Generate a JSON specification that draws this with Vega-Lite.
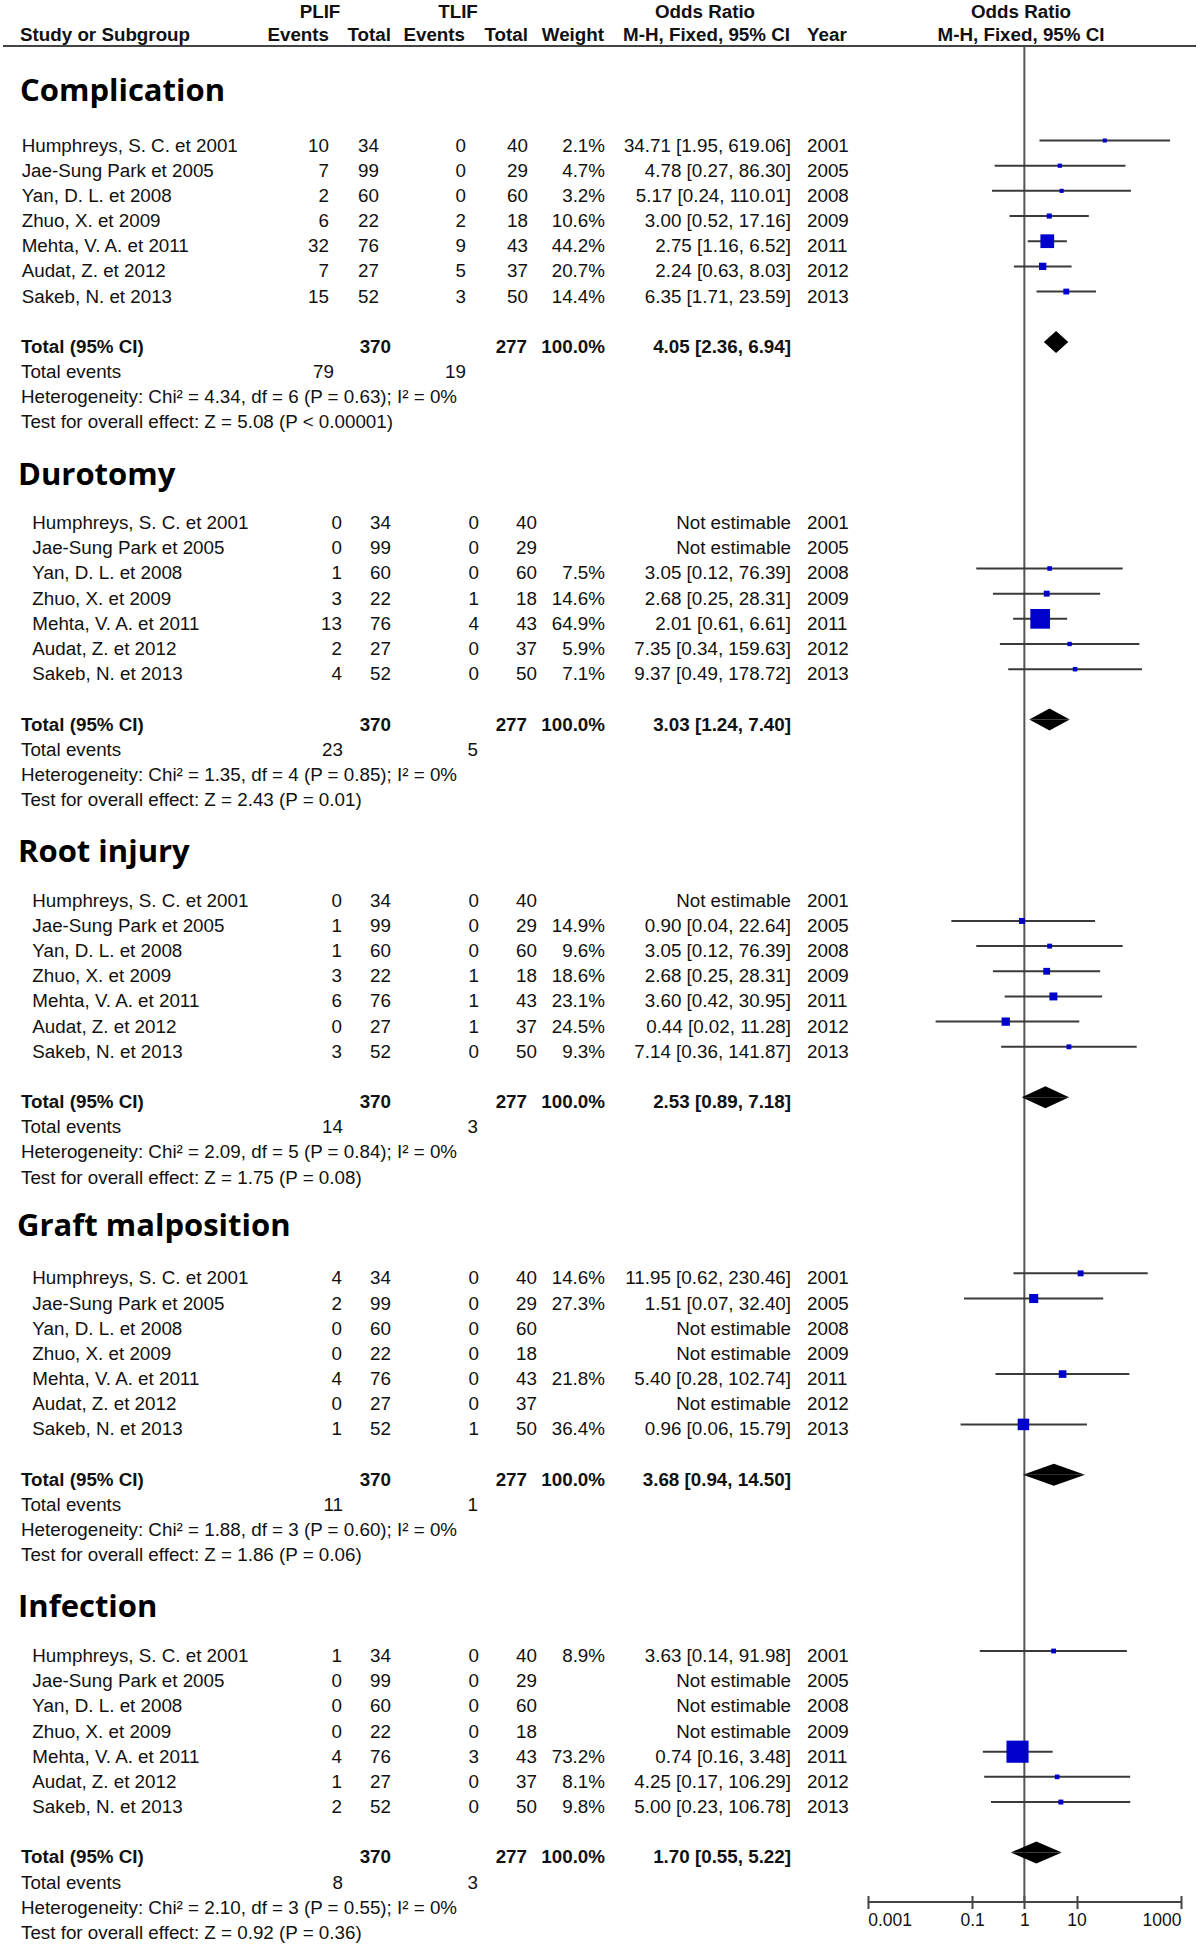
{
  "$schema": "https://vega.github.io/schema/vega-lite/v6.json",
  "width": 1200,
  "height": 1902,
  "padding": 0,
  "autosize": {"type": "pad"},
  "background": "white",
  "config": {
    "view": {"stroke": null},
    "text": {"font": "Liberation Sans", "fontSize": 18.8, "color": "#111", "baseline": "middle"}
  },
  "datasets": {
    "studies": [
      {"block": "Complication", "row": 0, "study": "Humphreys, S. C. et 2001", "e1": 10, "n1": 34, "e2": 0, "n2": 40, "w": 0.021, "est": "34.71 [1.95, 619.06]", "or": 34.71, "lo": 1.95, "hi": 619.06, "year": 2001},
      {"block": "Complication", "row": 1, "study": "Jae-Sung Park et 2005", "e1": 7, "n1": 99, "e2": 0, "n2": 29, "w": 0.047, "est": "4.78 [0.27, 86.30]", "or": 4.78, "lo": 0.27, "hi": 86.30, "year": 2005},
      {"block": "Complication", "row": 2, "study": "Yan, D. L. et 2008", "e1": 2, "n1": 60, "e2": 0, "n2": 60, "w": 0.032, "est": "5.17 [0.24, 110.01]", "or": 5.17, "lo": 0.24, "hi": 110.01, "year": 2008},
      {"block": "Complication", "row": 3, "study": "Zhuo, X. et 2009", "e1": 6, "n1": 22, "e2": 2, "n2": 18, "w": 0.106, "est": "3.00 [0.52, 17.16]", "or": 3.00, "lo": 0.52, "hi": 17.16, "year": 2009},
      {"block": "Complication", "row": 4, "study": "Mehta, V. A. et 2011", "e1": 32, "n1": 76, "e2": 9, "n2": 43, "w": 0.442, "est": "2.75 [1.16, 6.52]", "or": 2.75, "lo": 1.16, "hi": 6.52, "year": 2011},
      {"block": "Complication", "row": 5, "study": "Audat, Z. et 2012", "e1": 7, "n1": 27, "e2": 5, "n2": 37, "w": 0.207, "est": "2.24 [0.63, 8.03]", "or": 2.24, "lo": 0.63, "hi": 8.03, "year": 2012},
      {"block": "Complication", "row": 6, "study": "Sakeb, N. et 2013", "e1": 15, "n1": 52, "e2": 3, "n2": 50, "w": 0.144, "est": "6.35 [1.71, 23.59]", "or": 6.35, "lo": 1.71, "hi": 23.59, "year": 2013},

      {"block": "Durotomy", "row": 15, "study": "Humphreys, S. C. et 2001", "e1": 0, "n1": 34, "e2": 0, "n2": 40, "w": null, "est": "Not estimable", "or": null, "lo": null, "hi": null, "year": 2001},
      {"block": "Durotomy", "row": 16, "study": "Jae-Sung Park et 2005", "e1": 0, "n1": 99, "e2": 0, "n2": 29, "w": null, "est": "Not estimable", "or": null, "lo": null, "hi": null, "year": 2005},
      {"block": "Durotomy", "row": 17, "study": "Yan, D. L. et 2008", "e1": 1, "n1": 60, "e2": 0, "n2": 60, "w": 0.075, "est": "3.05 [0.12, 76.39]", "or": 3.05, "lo": 0.12, "hi": 76.39, "year": 2008},
      {"block": "Durotomy", "row": 18, "study": "Zhuo, X. et 2009", "e1": 3, "n1": 22, "e2": 1, "n2": 18, "w": 0.146, "est": "2.68 [0.25, 28.31]", "or": 2.68, "lo": 0.25, "hi": 28.31, "year": 2009},
      {"block": "Durotomy", "row": 19, "study": "Mehta, V. A. et 2011", "e1": 13, "n1": 76, "e2": 4, "n2": 43, "w": 0.649, "est": "2.01 [0.61, 6.61]", "or": 2.01, "lo": 0.61, "hi": 6.61, "year": 2011},
      {"block": "Durotomy", "row": 20, "study": "Audat, Z. et 2012", "e1": 2, "n1": 27, "e2": 0, "n2": 37, "w": 0.059, "est": "7.35 [0.34, 159.63]", "or": 7.35, "lo": 0.34, "hi": 159.63, "year": 2012},
      {"block": "Durotomy", "row": 21, "study": "Sakeb, N. et 2013", "e1": 4, "n1": 52, "e2": 0, "n2": 50, "w": 0.071, "est": "9.37 [0.49, 178.72]", "or": 9.37, "lo": 0.49, "hi": 178.72, "year": 2013},

      {"block": "Root injury", "row": 30, "study": "Humphreys, S. C. et 2001", "e1": 0, "n1": 34, "e2": 0, "n2": 40, "w": null, "est": "Not estimable", "or": null, "lo": null, "hi": null, "year": 2001},
      {"block": "Root injury", "row": 31, "study": "Jae-Sung Park et 2005", "e1": 1, "n1": 99, "e2": 0, "n2": 29, "w": 0.149, "est": "0.90 [0.04, 22.64]", "or": 0.90, "lo": 0.04, "hi": 22.64, "year": 2005},
      {"block": "Root injury", "row": 32, "study": "Yan, D. L. et 2008", "e1": 1, "n1": 60, "e2": 0, "n2": 60, "w": 0.096, "est": "3.05 [0.12, 76.39]", "or": 3.05, "lo": 0.12, "hi": 76.39, "year": 2008},
      {"block": "Root injury", "row": 33, "study": "Zhuo, X. et 2009", "e1": 3, "n1": 22, "e2": 1, "n2": 18, "w": 0.186, "est": "2.68 [0.25, 28.31]", "or": 2.68, "lo": 0.25, "hi": 28.31, "year": 2009},
      {"block": "Root injury", "row": 34, "study": "Mehta, V. A. et 2011", "e1": 6, "n1": 76, "e2": 1, "n2": 43, "w": 0.231, "est": "3.60 [0.42, 30.95]", "or": 3.60, "lo": 0.42, "hi": 30.95, "year": 2011},
      {"block": "Root injury", "row": 35, "study": "Audat, Z. et 2012", "e1": 0, "n1": 27, "e2": 1, "n2": 37, "w": 0.245, "est": "0.44 [0.02, 11.28]", "or": 0.44, "lo": 0.02, "hi": 11.28, "year": 2012},
      {"block": "Root injury", "row": 36, "study": "Sakeb, N. et 2013", "e1": 3, "n1": 52, "e2": 0, "n2": 50, "w": 0.093, "est": "7.14 [0.36, 141.87]", "or": 7.14, "lo": 0.36, "hi": 141.87, "year": 2013},

      {"block": "Graft malposition", "row": 45, "study": "Humphreys, S. C. et 2001", "e1": 4, "n1": 34, "e2": 0, "n2": 40, "w": 0.146, "est": "11.95 [0.62, 230.46]", "or": 11.95, "lo": 0.62, "hi": 230.46, "year": 2001},
      {"block": "Graft malposition", "row": 46, "study": "Jae-Sung Park et 2005", "e1": 2, "n1": 99, "e2": 0, "n2": 29, "w": 0.273, "est": "1.51 [0.07, 32.40]", "or": 1.51, "lo": 0.07, "hi": 32.40, "year": 2005},
      {"block": "Graft malposition", "row": 47, "study": "Yan, D. L. et 2008", "e1": 0, "n1": 60, "e2": 0, "n2": 60, "w": null, "est": "Not estimable", "or": null, "lo": null, "hi": null, "year": 2008},
      {"block": "Graft malposition", "row": 48, "study": "Zhuo, X. et 2009", "e1": 0, "n1": 22, "e2": 0, "n2": 18, "w": null, "est": "Not estimable", "or": null, "lo": null, "hi": null, "year": 2009},
      {"block": "Graft malposition", "row": 49, "study": "Mehta, V. A. et 2011", "e1": 4, "n1": 76, "e2": 0, "n2": 43, "w": 0.218, "est": "5.40 [0.28, 102.74]", "or": 5.40, "lo": 0.28, "hi": 102.74, "year": 2011},
      {"block": "Graft malposition", "row": 50, "study": "Audat, Z. et 2012", "e1": 0, "n1": 27, "e2": 0, "n2": 37, "w": null, "est": "Not estimable", "or": null, "lo": null, "hi": null, "year": 2012},
      {"block": "Graft malposition", "row": 51, "study": "Sakeb, N. et 2013", "e1": 1, "n1": 52, "e2": 1, "n2": 50, "w": 0.364, "est": "0.96 [0.06, 15.79]", "or": 0.96, "lo": 0.06, "hi": 15.79, "year": 2013},

      {"block": "Infection", "row": 60, "study": "Humphreys, S. C. et 2001", "e1": 1, "n1": 34, "e2": 0, "n2": 40, "w": 0.089, "est": "3.63 [0.14, 91.98]", "or": 3.63, "lo": 0.14, "hi": 91.98, "year": 2001},
      {"block": "Infection", "row": 61, "study": "Jae-Sung Park et 2005", "e1": 0, "n1": 99, "e2": 0, "n2": 29, "w": null, "est": "Not estimable", "or": null, "lo": null, "hi": null, "year": 2005},
      {"block": "Infection", "row": 62, "study": "Yan, D. L. et 2008", "e1": 0, "n1": 60, "e2": 0, "n2": 60, "w": null, "est": "Not estimable", "or": null, "lo": null, "hi": null, "year": 2008},
      {"block": "Infection", "row": 63, "study": "Zhuo, X. et 2009", "e1": 0, "n1": 22, "e2": 0, "n2": 18, "w": null, "est": "Not estimable", "or": null, "lo": null, "hi": null, "year": 2009},
      {"block": "Infection", "row": 64, "study": "Mehta, V. A. et 2011", "e1": 4, "n1": 76, "e2": 3, "n2": 43, "w": 0.732, "est": "0.74 [0.16, 3.48]", "or": 0.74, "lo": 0.16, "hi": 3.48, "year": 2011},
      {"block": "Infection", "row": 65, "study": "Audat, Z. et 2012", "e1": 1, "n1": 27, "e2": 0, "n2": 37, "w": 0.081, "est": "4.25 [0.17, 106.29]", "or": 4.25, "lo": 0.17, "hi": 106.29, "year": 2012},
      {"block": "Infection", "row": 66, "study": "Sakeb, N. et 2013", "e1": 2, "n1": 52, "e2": 0, "n2": 50, "w": 0.098, "est": "5.00 [0.23, 106.78]", "or": 5.00, "lo": 0.23, "hi": 106.78, "year": 2013}
    ],
    "summary": [
      {"block": "Complication", "row": 8, "n1": 370, "n2": 277, "w": 1, "est": "4.05 [2.36, 6.94]", "or": 4.05, "lo": 2.36, "hi": 6.94, "ev1": 79, "ev2": 19, "het": "Heterogeneity: Chi² = 4.34, df = 6 (P = 0.63); I² = 0%", "test": "Test for overall effect: Z = 5.08 (P < 0.00001)"},
      {"block": "Durotomy", "row": 23, "n1": 370, "n2": 277, "w": 1, "est": "3.03 [1.24, 7.40]", "or": 3.03, "lo": 1.24, "hi": 7.40, "ev1": 23, "ev2": 5, "het": "Heterogeneity: Chi² = 1.35, df = 4 (P = 0.85); I² = 0%", "test": "Test for overall effect: Z = 2.43 (P = 0.01)"},
      {"block": "Root injury", "row": 38, "n1": 370, "n2": 277, "w": 1, "est": "2.53 [0.89, 7.18]", "or": 2.53, "lo": 0.89, "hi": 7.18, "ev1": 14, "ev2": 3, "het": "Heterogeneity: Chi² = 2.09, df = 5 (P = 0.84); I² = 0%", "test": "Test for overall effect: Z = 1.75 (P = 0.08)"},
      {"block": "Graft malposition", "row": 53, "n1": 370, "n2": 277, "w": 1, "est": "3.68 [0.94, 14.50]", "or": 3.68, "lo": 0.94, "hi": 14.50, "ev1": 11, "ev2": 1, "het": "Heterogeneity: Chi² = 1.88, df = 3 (P = 0.60); I² = 0%", "test": "Test for overall effect: Z = 1.86 (P = 0.06)"},
      {"block": "Infection", "row": 68, "n1": 370, "n2": 277, "w": 1, "est": "1.70 [0.55, 5.22]", "or": 1.70, "lo": 0.55, "hi": 5.22, "ev1": 8, "ev2": 3, "het": "Heterogeneity: Chi² = 2.10, df = 3 (P = 0.55); I² = 0%", "test": "Test for overall effect: Z = 0.92 (P = 0.36)"}
    ],
    "header": [
      {"label": "PLIF"},
      {"label": "TLIF"},
      {"label": "Odds Ratio"},
      {"label": "Study or Subgroup"},
      {"label": "Events"},
      {"label": "Total"},
      {"label": "Weight"},
      {"label": "M-H, Fixed, 95% CI"},
      {"label": "Year"}
    ],
    "reference": [{"or": 1}]
  },
  "layer": [
    {
      "layer": [
        {
          "layer": [
            {"data": {"name": "reference"}, "mark": {"type": "rule", "color": "#444", "strokeWidth": 2},
             "encoding": {"x": {"datum": 3, "type": "quantitative", "scale": {"domain": [0, 1200], "nice": false, "zero": false}, "axis": null}, "x2": {"datum": 1196}, "y": {"datum": -3.952, "type": "quantitative", "axis": null}}},
            {"data": {"name": "header"}, "transform": [{"filter": "datum.label == 'PLIF'"}], "mark": {"type": "text", "align": "center", "fontWeight": "bold"},
             "encoding": {"x": {"datum": 320, "type": "quantitative", "axis": null}, "y": {"datum": -5.3, "type": "quantitative", "axis": null}, "text": {"field": "label"}}},
            {"data": {"name": "header"}, "transform": [{"filter": "datum.label == 'TLIF'"}], "mark": {"type": "text", "align": "center", "fontWeight": "bold"},
             "encoding": {"x": {"datum": 458, "type": "quantitative", "axis": null}, "y": {"datum": -5.3, "type": "quantitative", "axis": null}, "text": {"field": "label"}}},
            {"data": {"name": "header"}, "transform": [{"filter": "datum.label == 'Odds Ratio'"}], "mark": {"type": "text", "align": "center", "fontWeight": "bold"},
             "encoding": {"x": {"datum": 705, "type": "quantitative", "axis": null}, "y": {"datum": -5.3, "type": "quantitative", "axis": null}, "text": {"field": "label"}}},
            {"data": {"name": "header"}, "transform": [{"filter": "datum.label == 'Odds Ratio'"}], "mark": {"type": "text", "align": "center", "fontWeight": "bold"},
             "encoding": {"x": {"datum": 1021, "type": "quantitative", "axis": null}, "y": {"datum": -5.3, "type": "quantitative", "axis": null}, "text": {"field": "label"}}},
            {"data": {"name": "header"}, "transform": [{"filter": "datum.label == 'Study or Subgroup'"}], "mark": {"type": "text", "align": "left", "fontWeight": "bold"},
             "encoding": {"x": {"datum": 20, "type": "quantitative", "axis": null}, "y": {"datum": -4.39, "type": "quantitative", "axis": null}, "text": {"field": "label"}}},
            {"data": {"name": "header"}, "transform": [{"filter": "datum.label == 'Events'"}], "mark": {"type": "text", "align": "right", "fontWeight": "bold"},
             "encoding": {"x": {"datum": 329, "type": "quantitative", "axis": null}, "y": {"datum": -4.39, "type": "quantitative", "axis": null}, "text": {"field": "label"}}},
            {"data": {"name": "header"}, "transform": [{"filter": "datum.label == 'Total'"}], "mark": {"type": "text", "align": "right", "fontWeight": "bold"},
             "encoding": {"x": {"datum": 391, "type": "quantitative", "axis": null}, "y": {"datum": -4.39, "type": "quantitative", "axis": null}, "text": {"field": "label"}}},
            {"data": {"name": "header"}, "transform": [{"filter": "datum.label == 'Events'"}], "mark": {"type": "text", "align": "right", "fontWeight": "bold"},
             "encoding": {"x": {"datum": 465, "type": "quantitative", "axis": null}, "y": {"datum": -4.39, "type": "quantitative", "axis": null}, "text": {"field": "label"}}},
            {"data": {"name": "header"}, "transform": [{"filter": "datum.label == 'Total'"}], "mark": {"type": "text", "align": "right", "fontWeight": "bold"},
             "encoding": {"x": {"datum": 528, "type": "quantitative", "axis": null}, "y": {"datum": -4.39, "type": "quantitative", "axis": null}, "text": {"field": "label"}}},
            {"data": {"name": "header"}, "transform": [{"filter": "datum.label == 'Weight'"}], "mark": {"type": "text", "align": "right", "fontWeight": "bold"},
             "encoding": {"x": {"datum": 604, "type": "quantitative", "axis": null}, "y": {"datum": -4.39, "type": "quantitative", "axis": null}, "text": {"field": "label"}}},
            {"data": {"name": "header"}, "transform": [{"filter": "datum.label == 'M-H, Fixed, 95% CI'"}], "mark": {"type": "text", "align": "right", "fontWeight": "bold"},
             "encoding": {"x": {"datum": 790, "type": "quantitative", "axis": null}, "y": {"datum": -4.39, "type": "quantitative", "axis": null}, "text": {"field": "label"}}},
            {"data": {"name": "header"}, "transform": [{"filter": "datum.label == 'Year'"}], "mark": {"type": "text", "align": "left", "fontWeight": "bold"},
             "encoding": {"x": {"datum": 807, "type": "quantitative", "axis": null}, "y": {"datum": -4.39, "type": "quantitative", "axis": null}, "text": {"field": "label"}}},
            {"data": {"name": "header"}, "transform": [{"filter": "datum.label == 'M-H, Fixed, 95% CI'"}], "mark": {"type": "text", "align": "center", "fontWeight": "bold"},
             "encoding": {"x": {"datum": 1021, "type": "quantitative", "axis": null}, "y": {"datum": -4.39, "type": "quantitative", "axis": null}, "text": {"field": "label"}}}
          ]
        },
        {
          "encoding": {
            "y": {"field": "row", "type": "quantitative", "scale": {"domain": [-5.78, 69.772], "reverse": true, "nice": false, "zero": false}, "axis": null}
          },
          "layer": [
            {"data": {"name": "studies"}, "transform": [{"filter": "datum.block == 'Complication'"}], "mark": {"type": "text", "align": "left"},
             "encoding": {"x": {"datum": 21.7, "type": "quantitative", "scale": {"domain": [0, 1200], "nice": false, "zero": false}, "axis": null}, "text": {"field": "study"}}},
            {"data": {"name": "studies"}, "transform": [{"filter": "datum.block != 'Complication'"}], "mark": {"type": "text", "align": "left"},
             "encoding": {"x": {"datum": 32.3, "type": "quantitative", "axis": null}, "text": {"field": "study"}}},
            {"data": {"name": "studies"}, "transform": [{"filter": "datum.block == 'Complication'"}], "mark": {"type": "text", "align": "right"},
             "encoding": {"x": {"datum": 329, "type": "quantitative", "axis": null}, "text": {"field": "e1"}}},
            {"data": {"name": "studies"}, "transform": [{"filter": "datum.block != 'Complication'"}], "mark": {"type": "text", "align": "right"},
             "encoding": {"x": {"datum": 342, "type": "quantitative", "axis": null}, "text": {"field": "e1"}}},
            {"data": {"name": "studies"}, "transform": [{"filter": "datum.block == 'Complication'"}], "mark": {"type": "text", "align": "right"},
             "encoding": {"x": {"datum": 379, "type": "quantitative", "axis": null}, "text": {"field": "n1"}}},
            {"data": {"name": "studies"}, "transform": [{"filter": "datum.block != 'Complication'"}], "mark": {"type": "text", "align": "right"},
             "encoding": {"x": {"datum": 391, "type": "quantitative", "axis": null}, "text": {"field": "n1"}}},
            {"data": {"name": "studies"}, "transform": [{"filter": "datum.block == 'Complication'"}], "mark": {"type": "text", "align": "right"},
             "encoding": {"x": {"datum": 466, "type": "quantitative", "axis": null}, "text": {"field": "e2"}}},
            {"data": {"name": "studies"}, "transform": [{"filter": "datum.block != 'Complication'"}], "mark": {"type": "text", "align": "right"},
             "encoding": {"x": {"datum": 479, "type": "quantitative", "axis": null}, "text": {"field": "e2"}}},
            {"data": {"name": "studies"}, "transform": [{"filter": "datum.block == 'Complication'"}], "mark": {"type": "text", "align": "right"},
             "encoding": {"x": {"datum": 528, "type": "quantitative", "axis": null}, "text": {"field": "n2"}}},
            {"data": {"name": "studies"}, "transform": [{"filter": "datum.block != 'Complication'"}], "mark": {"type": "text", "align": "right"},
             "encoding": {"x": {"datum": 537, "type": "quantitative", "axis": null}, "text": {"field": "n2"}}},
            {"data": {"name": "studies"}, "transform": [{"filter": "datum.w != null"}], "mark": {"type": "text", "align": "right"},
             "encoding": {"x": {"datum": 605, "type": "quantitative", "axis": null}, "text": {"field": "w", "type": "quantitative", "format": ".1%"}}},
            {"data": {"name": "studies"}, "mark": {"type": "text", "align": "right"},
             "encoding": {"x": {"datum": 791, "type": "quantitative", "axis": null}, "text": {"field": "est"}}},
            {"data": {"name": "studies"}, "mark": {"type": "text", "align": "left"},
             "encoding": {"x": {"datum": 807, "type": "quantitative", "axis": null}, "text": {"field": "year", "type": "nominal"}}},

            {"data": {"name": "summary"}, "transform": [{"filter": "datum.block == 'Complication'"}], "mark": {"type": "text", "align": "left", "font": "Open Sans", "fontSize": 31, "fontWeight": "bold", "color": "#000", "yOffset": -254.5},
             "encoding": {"x": {"datum": 20, "type": "quantitative", "axis": null}, "text": {"field": "block"}}},
            {"data": {"name": "summary"}, "transform": [{"filter": "datum.block == 'Graft malposition'"}], "mark": {"type": "text", "align": "left", "font": "Open Sans", "fontSize": 31, "fontWeight": "bold", "color": "#000", "yOffset": -253},
             "encoding": {"x": {"datum": 17, "type": "quantitative", "axis": null}, "text": {"field": "block"}}},
            {"data": {"name": "summary"}, "transform": [{"filter": "datum.block != 'Complication' && datum.block != 'Graft malposition'"}], "mark": {"type": "text", "align": "left", "font": "Open Sans", "fontSize": 31, "fontWeight": "bold", "color": "#000", "yOffset": -249},
             "encoding": {"x": {"datum": 18, "type": "quantitative", "axis": null}, "text": {"field": "block"}}},
            {"data": {"name": "summary"}, "mark": {"type": "text", "align": "left", "fontWeight": "bold"},
             "encoding": {"x": {"datum": 21, "type": "quantitative", "axis": null}, "text": {"value": "Total (95% CI)"}}},
            {"data": {"name": "summary"}, "mark": {"type": "text", "align": "right", "fontWeight": "bold"},
             "encoding": {"x": {"datum": 391, "type": "quantitative", "axis": null}, "text": {"field": "n1"}}},
            {"data": {"name": "summary"}, "mark": {"type": "text", "align": "right", "fontWeight": "bold"},
             "encoding": {"x": {"datum": 527, "type": "quantitative", "axis": null}, "text": {"field": "n2"}}},
            {"data": {"name": "summary"}, "mark": {"type": "text", "align": "right", "fontWeight": "bold"},
             "encoding": {"x": {"datum": 605, "type": "quantitative", "axis": null}, "text": {"field": "w", "type": "quantitative", "format": ".1%"}}},
            {"data": {"name": "summary"}, "mark": {"type": "text", "align": "right", "fontWeight": "bold"},
             "encoding": {"x": {"datum": 791, "type": "quantitative", "axis": null}, "text": {"field": "est"}}},
            {"data": {"name": "summary"}, "mark": {"type": "text", "align": "left", "yOffset": 25.175},
             "encoding": {"x": {"datum": 21, "type": "quantitative", "axis": null}, "text": {"value": "Total events"}}},
            {"data": {"name": "summary"}, "transform": [{"filter": "datum.block == 'Complication'"}], "mark": {"type": "text", "align": "right", "yOffset": 25.175},
             "encoding": {"x": {"datum": 334, "type": "quantitative", "axis": null}, "text": {"field": "ev1"}}},
            {"data": {"name": "summary"}, "transform": [{"filter": "datum.block != 'Complication'"}], "mark": {"type": "text", "align": "right", "yOffset": 25.175},
             "encoding": {"x": {"datum": 343, "type": "quantitative", "axis": null}, "text": {"field": "ev1"}}},
            {"data": {"name": "summary"}, "transform": [{"filter": "datum.block == 'Complication'"}], "mark": {"type": "text", "align": "right", "yOffset": 25.175},
             "encoding": {"x": {"datum": 466, "type": "quantitative", "axis": null}, "text": {"field": "ev2"}}},
            {"data": {"name": "summary"}, "transform": [{"filter": "datum.block != 'Complication'"}], "mark": {"type": "text", "align": "right", "yOffset": 25.175},
             "encoding": {"x": {"datum": 478, "type": "quantitative", "axis": null}, "text": {"field": "ev2"}}},
            {"data": {"name": "summary"}, "mark": {"type": "text", "align": "left", "yOffset": 50.35},
             "encoding": {"x": {"datum": 21, "type": "quantitative", "axis": null}, "text": {"field": "het"}}},
            {"data": {"name": "summary"}, "mark": {"type": "text", "align": "left", "yOffset": 75.525},
             "encoding": {"x": {"datum": 21, "type": "quantitative", "axis": null}, "text": {"field": "test"}}}
          ]
        }
      ]
    },
    {
      "layer": [
        {
          "layer": [
            {"data": {"name": "reference"}, "mark": {"type": "rule", "color": "#555", "strokeWidth": 2},
             "encoding": {"x": {"field": "or", "type": "quantitative", "scale": {"type": "log", "domain": [0.001, 1000], "range": [867.7, 1181]}}, "y": {"datum": -3.952, "type": "quantitative", "axis": null}, "y2": {"datum": 69.772}}},
            {"data": {"name": "reference"}, "mark": {"type": "rule", "color": "#444", "strokeWidth": 2},
             "encoding": {"x": {"datum": 0.001, "type": "quantitative"}, "x2": {"datum": 1000}, "y": {"datum": 69.772, "type": "quantitative", "axis": null}}}
          ]
        },
        {
          "data": {"name": "studies"},
          "transform": [{"filter": "datum.or != null"}],
          "encoding": {
            "y": {"field": "row", "type": "quantitative", "scale": {"domain": [-5.78, 69.772], "reverse": true, "nice": false, "zero": false}, "axis": null}
          },
          "layer": [
            {"mark": {"type": "rule", "color": "#3a3a3a", "strokeWidth": 2, "yOffset": -5},
             "encoding": {
               "x": {"field": "lo", "type": "quantitative", "scale": {"type": "log", "domain": [0.001, 1000], "range": [867.7, 1181]},
                     "axis": {"title": null, "values": [0.001, 0.1, 1, 10, 1000], "format": "~g", "grid": false, "domain": false, "offset": -6.5, "tickSize": 13, "tickWidth": 2, "tickColor": "#444", "labelFlush": true, "labelOverlap": false, "labelFont": "Liberation Sans", "labelFontSize": 17.5, "labelColor": "#111", "labelPadding": 3}},
               "x2": {"field": "hi"}}},
            {"mark": {"type": "square", "color": "#0000cc", "filled": true, "opacity": 1, "yOffset": -5},
             "encoding": {
               "x": {"field": "or", "type": "quantitative"},
               "size": {"field": "w", "type": "quantitative", "scale": {"type": "pow", "exponent": 2, "domain": [0, 1], "range": [16, 900]}, "legend": null}}}
          ]
        }
      ]
    },
    {
      "data": {"name": "summary"},
      "transform": [
        {"fold": ["lo", "or"], "as": ["k1", "x1"]},
        {"fold": ["hi", "or"], "as": ["k2", "x2v"]},
        {"filter": "(datum.k1 == 'lo' && datum.k2 == 'hi') || (datum.k1 == 'or' && datum.k2 == 'or')"}
      ],
      "encoding": {
        "y": {"field": "row", "type": "ordinal", "scale": {"type": "point", "domain": [8, 23, 38, 53, 68], "range": [346.9, 1857.4], "padding": 0}, "axis": null},
        "x": {"field": "x1", "type": "quantitative", "scale": {"type": "log", "domain": [0.001, 1000], "range": [867.7, 1181]}, "axis": null},
        "x2": {"field": "x2v"},
        "detail": {"field": "block", "type": "nominal"}
      },
      "layer": [
        {"mark": {"type": "area", "orient": "horizontal", "color": "#000", "opacity": 1},
         "encoding": {"yOffset": {"field": "k1", "type": "nominal", "scale": {"type": "point", "domain": ["lo", "or"], "range": [-5, -16], "padding": 0}}}},
        {"mark": {"type": "area", "orient": "horizontal", "color": "#000", "opacity": 1},
         "encoding": {"yOffset": {"field": "k1", "type": "nominal", "scale": {"type": "point", "domain": ["lo", "or"], "range": [-5, 6], "padding": 0}}}}
      ],
      "resolve": {"scale": {"yOffset": "independent"}}
    }
  ],
  "resolve": {"scale": {"x": "independent", "y": "independent"}}
}
